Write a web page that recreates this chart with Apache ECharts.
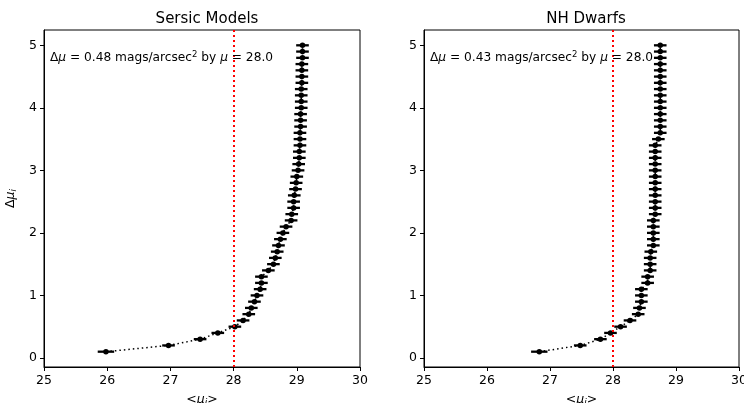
<!DOCTYPE html>
<html>
<head>
<meta charset="utf-8">
<script src="https://cdn.jsdelivr.net/npm/echarts@6/dist/echarts.min.js"></script>
<style>
html,body{margin:0;padding:0;background:#fff;}
#c{width:744px;height:403px;}
</style>
</head>
<body>
<div id="c"></div>
<script>
// ---- data ----
const deltaMu = [0.1,0.2,0.3,0.4,0.5,0.6,0.7,0.8,0.9,1.0,
                 1.1,1.2,1.3,1.4,1.5,1.6,1.7,1.8,1.9,2.0,
                 2.1,2.2,2.3,2.4,2.5,2.6,2.7,2.8,2.9,3.0,
                 3.1,3.2,3.3,3.4,3.5,3.6,3.7,3.8,3.9,4.0,
                 4.1,4.2,4.3,4.4,4.5,4.6,4.7,4.8,4.9,5.0];
const sersicMu = [25.98,26.97,27.47,27.75,28.02,28.15,28.24,28.28,28.33,28.37,
                  28.42,28.44,28.44,28.55,28.63,28.66,28.69,28.71,28.74,28.78,
                  28.83,28.91,28.92,28.95,28.95,28.96,28.98,28.99,29.00,29.02,
                  29.03,29.04,29.04,29.05,29.05,29.05,29.06,29.06,29.06,29.07,
                  29.07,29.07,29.07,29.08,29.08,29.08,29.08,29.09,29.09,29.09];
const sersicErr = [0.13,0.10,0.10,0.10,0.10,0.10,0.10,0.10,0.10,0.10,
                   0.10,0.10,0.10,0.10,0.10,0.10,0.10,0.10,0.10,0.10,
                   0.10,0.10,0.10,0.10,0.10,0.10,0.10,0.10,0.10,0.10,
                   0.10,0.10,0.10,0.10,0.10,0.10,0.10,0.10,0.10,0.10,
                   0.10,0.10,0.10,0.10,0.10,0.10,0.10,0.10,0.10,0.10];
const dwarfMu = [26.83,27.48,27.80,27.96,28.12,28.27,28.40,28.42,28.45,28.45,
                 28.45,28.55,28.55,28.59,28.59,28.59,28.60,28.64,28.64,28.64,
                 28.64,28.64,28.67,28.67,28.67,28.67,28.67,28.67,28.67,28.67,
                 28.67,28.67,28.67,28.67,28.72,28.75,28.75,28.75,28.75,28.75,
                 28.75,28.75,28.75,28.75,28.75,28.75,28.75,28.75,28.75,28.75];
const dwarfErr = [0.13,0.10,0.10,0.10,0.10,0.10,0.10,0.10,0.10,0.10,
                  0.10,0.10,0.10,0.10,0.10,0.10,0.10,0.10,0.10,0.10,
                  0.10,0.10,0.10,0.10,0.10,0.10,0.10,0.10,0.10,0.10,
                  0.10,0.10,0.10,0.10,0.10,0.10,0.10,0.10,0.10,0.10,
                  0.10,0.10,0.10,0.10,0.10,0.10,0.10,0.10,0.10,0.10];
const titles = ['Sersic Models', 'NH Dwarfs'];
const annotations = ['0.48', '0.43'];
const refMu = 28.0;
const xTicks = [25, 26, 27, 28, 29, 30];
const yTicks = [0, 1, 2, 3, 4, 5];

// ---- chart ----
const FONT = 'DejaVu Sans';
const TICK_FS = 12.5;
const chart = echarts.init(document.getElementById('c'), null, {renderer: 'canvas'});

const grids = [
  {left: 44, top: 30, width: 316, height: 337},
  {left: 424, top: 30, width: 315, height: 337}
];

function xAxisCfg(i) {
  return {
    type: 'value', gridIndex: i, min: 25, max: 30, interval: 1,
    axisLine: {show: true, onZero: false, lineStyle: {color: '#000', width: 1}},
    axisTick: {show: true, inside: false, length: 4, lineStyle: {color: '#000'}},
    axisLabel: {color: '#000', fontFamily: FONT, fontSize: TICK_FS, margin: 7},
    splitLine: {show: false},
    name: '{t|<}{m|μ}{s|i}{t|>}',
    nameLocation: 'middle', nameGap: 25,
    nameTextStyle: {
      rich: {
        t: {fontFamily: FONT, fontSize: TICK_FS, color: '#000'},
        m: {fontFamily: FONT, fontSize: TICK_FS, fontStyle: 'italic', color: '#000'},
        s: {fontFamily: FONT, fontSize: 9, fontStyle: 'italic', color: '#000', padding: [6, 0, 0, 0]}
      }
    }
  };
}
function yAxisCfg(i) {
  const cfg = {
    type: 'value', gridIndex: i, min: -0.145, max: 5.245,
    axisLine: {show: true, onZero: false, lineStyle: {color: '#000', width: 1}},
    axisTick: {show: true, inside: false, length: 4, lineStyle: {color: '#000'}, customValues: yTicks},
    axisLabel: {color: '#000', fontFamily: FONT, fontSize: TICK_FS, margin: 7, customValues: yTicks},
    splitLine: {show: false}
  };
  if (i === 0) {
    cfg.name = '{t|Δ}{m|μ}{s|i}';
    cfg.nameLocation = 'middle';
    cfg.nameGap = 26;
    cfg.nameRotate = 90;
    cfg.nameTextStyle = {
      rich: {
        t: {fontFamily: FONT, fontSize: TICK_FS, color: '#000'},
        m: {fontFamily: FONT, fontSize: TICK_FS, fontStyle: 'italic', color: '#000'},
        s: {fontFamily: FONT, fontSize: 9, fontStyle: 'italic', color: '#000', padding: [6, 0, 0, 0]}
      }
    };
  }
  return cfg;
}

function errSeries(i, xs, errs) {
  return {
    type: 'custom', xAxisIndex: i, yAxisIndex: i, z: 3,
    data: deltaMu.map((y, k) => [xs[k], y, errs[k]]),
    renderItem: function (params, api) {
      const x = api.value(0), y = api.value(1), e = api.value(2);
      const p1 = api.coord([x - e, y]);
      const p2 = api.coord([x + e, y]);
      return {
        type: 'line',
        shape: {x1: p1[0], y1: p1[1], x2: p2[0], y2: p2[1]},
        style: {stroke: '#000', lineWidth: 2.3}
      };
    },
    silent: true
  };
}
function lineSeries(i, xs) {
  return {
    type: 'line', xAxisIndex: i, yAxisIndex: i, z: 4,
    data: deltaMu.map((y, k) => [xs[k], y]),
    symbol: 'circle', symbolSize: 5.5, showSymbol: true,
    itemStyle: {color: '#000'},
    lineStyle: {color: '#000', width: 1.5, type: [1.5, 3]},
    animation: false, silent: true,
    markLine: {
      silent: true, symbol: 'none', animation: false,
      label: {show: false},
      lineStyle: {color: '#ff0000', width: 2, type: [2, 3]},
      data: [{xAxis: refMu}]
    }
  };
}

function annot(i, val, x) {
  return {
    type: 'text', left: x, top: 50, z: 10,
    style: {
      text: '{n|Δ}{m|μ}{n| = ' + val + ' mags/arcsec}{s|2}{n| by }{m|μ}{n| = ' + refMu.toFixed(1) + '}',
      rich: {
        n: {fontFamily: FONT, fontSize: 12.2, fill: '#000'},
        m: {fontFamily: FONT, fontSize: 12.2, fontStyle: 'italic', fill: '#000'},
        s: {fontFamily: FONT, fontSize: 8.5, fill: '#000', padding: [0, 0, 7, 0]}
      }
    }
  };
}

const option = {
  animation: false,
  backgroundColor: '#fff',
  title: [
    {text: titles[0], left: 202, top: 7, textAlign: 'center',
     textStyle: {fontFamily: FONT, fontSize: 15, fontWeight: 'normal', color: '#000'}},
    {text: titles[1], left: 581, top: 7, textAlign: 'center',
     textStyle: {fontFamily: FONT, fontSize: 15, fontWeight: 'normal', color: '#000'}}
  ],
  grid: grids.map(g => Object.assign({show: true, borderColor: '#000', borderWidth: 1,
    backgroundColor: 'transparent', containLabel: false, outerBoundsMode: 'none'}, g)),
  xAxis: [xAxisCfg(0), xAxisCfg(1)],
  yAxis: [yAxisCfg(0), yAxisCfg(1)],
  series: [
    lineSeries(0, sersicMu), errSeries(0, sersicMu, sersicErr),
    lineSeries(1, dwarfMu), errSeries(1, dwarfMu, dwarfErr)
  ],
  graphic: [annot(0, annotations[0], 50), annot(1, annotations[1], 430)]
};
chart.setOption(option);
</script>
</body>
</html>
